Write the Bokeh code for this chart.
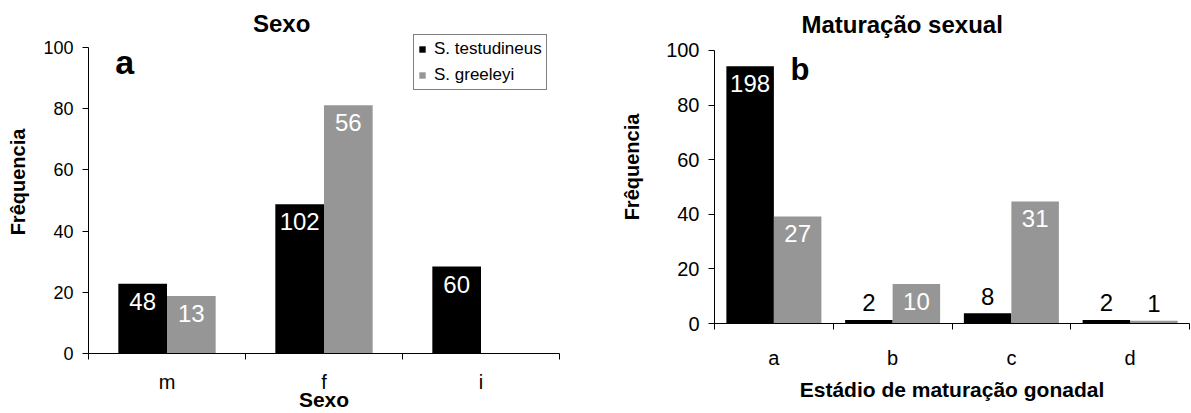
import numpy as np
from bokeh.plotting import figure
from bokeh.models import (ColumnDataSource, FixedTicker, Legend, LegendItem, Label,
                          Range1d)
from bokeh.layouts import row, column
from bokeh.embed import file_html
from bokeh.resources import INLINE
from bokeh.core.properties import value

# ---------------- data ----------------
series_names = ["S. testudineus", "S. greeleyi"]
series_colors = ["#000000", "#969696"]
y_ticks = [0, 20, 40, 60, 80, 100]

# panel a: Sexo (bar height = % frequency, label = count)
sex_categories = ["m", "f", "i"]
sex_testudineus_pct = [22.8, 48.8, 28.4]
sex_greeleyi_pct = [18.8, 81.1, np.nan]
sex_testudineus_n = [48, 102, 60]
sex_greeleyi_n = [13, 56, None]

# panel b: Maturação sexual
mat_categories = ["a", "b", "c", "d"]
mat_testudineus_pct = [94.2, 1.3, 3.8, 1.3]
mat_greeleyi_pct = [39.2, 14.5, 44.7, 1.0]
mat_testudineus_n = [198, 2, 8, 2]
mat_greeleyi_n = [27, 10, 31, 1]

FONT = "Liberation Sans"


def make_panel(categories, pct_a, pct_b, n_a, n_b, *, title, title_pos, xlabel,
               letter, letter_pos, letter_size, bar_w, width, height, ymax,
               bl, br, bt, bb, tick_size, cat_size, cat_standoff, xlab_standoff,
               ylab_standoff, legend=False):
    k = len(categories)
    centers = np.arange(k) + 0.5
    p = figure(width=width, height=height,
               x_range=Range1d(0, k), y_range=Range1d(0, ymax),
               output_backend="svg", toolbar_location=None,
               min_border_left=bl, min_border_right=br, min_border_top=bt,
               min_border_bottom=bb)
    p.outline_line_color = None
    p.xgrid.visible = False
    p.ygrid.visible = False
    p.background_fill_color = "white"
    p.border_fill_color = "white"

    renderers = []
    label_rows = {"x": [], "y": [], "t": [], "c": []}
    out_rows = {"x": [], "y": [], "t": []}
    for s, (pcts, ns, col) in enumerate([(pct_a, n_a, series_colors[0]),
                                         (pct_b, n_b, series_colors[1])]):
        xs = centers + (s - 0.5) * bar_w
        src = ColumnDataSource(dict(x=xs, top=pcts))
        r = p.vbar(x="x", top="top", width=bar_w, source=src, fill_color=col,
                   line_color=None)
        renderers.append(r)
        for xi, v, n in zip(xs, pcts, ns):
            if n is None:
                continue
            if v >= 10:
                label_rows["x"].append(xi); label_rows["y"].append(v)
                label_rows["t"].append(str(n)); label_rows["c"].append("white")
            else:
                out_rows["x"].append(xi); out_rows["y"].append(v)
                out_rows["t"].append(str(n))

    p.text(x="x", y="y", text="t", text_color="c", source=ColumnDataSource(label_rows),
           text_font=value(FONT), text_font_size="24px", text_align="center",
           text_baseline="top", y_offset=9)
    p.text(x="x", y="y", text="t", text_color="black", source=ColumnDataSource(out_rows),
           text_font=value(FONT), text_font_size="24px", text_align="center",
           text_baseline="alphabetic", y_offset=-17)

    # y axis
    ya = p.yaxis[0]
    ya.ticker = FixedTicker(ticks=y_ticks)
    ya.bounds = (0, 100)
    ya.minor_tick_line_color = None
    ya.major_tick_in = 0
    ya.major_tick_out = 6
    ya.major_label_standoff = 9
    ya.major_label_text_font = FONT
    ya.major_label_text_font_size = tick_size
    ya.major_label_text_color = "black"
    ya.axis_line_color = "black"
    ya.major_tick_line_color = "black"
    ya.axis_label = "Frêquencia"
    ya.axis_label_text_font = FONT
    ya.axis_label_text_font_size = "20px"
    ya.axis_label_text_font_style = "bold"
    ya.axis_label_text_color = "black"
    ya.axis_label_standoff = ylab_standoff

    # x axis: labels at centers, ticks at category boundaries
    xa = p.xaxis[0]
    xa.ticker = FixedTicker(ticks=list(centers), minor_ticks=list(np.arange(k + 1)))
    xa.major_label_overrides = {float(c): cat for c, cat in zip(centers, categories)}
    xa.major_tick_out = 0
    xa.major_tick_in = 0
    xa.minor_tick_out = 6
    xa.minor_tick_in = 0
    xa.minor_tick_line_color = "black"
    xa.axis_line_color = "black"
    xa.major_label_standoff = cat_standoff
    xa.major_label_text_font = FONT
    xa.major_label_text_font_size = cat_size
    xa.major_label_text_color = "black"
    xa.axis_label = xlabel
    xa.axis_label_text_font = FONT
    xa.axis_label_text_font_size = "21px"
    xa.axis_label_text_font_style = "bold"
    xa.axis_label_text_color = "black"
    xa.axis_label_standoff = xlab_standoff

    # chart title (inside the extended frame, above the 0-100 area)
    p.add_layout(Label(x=title_pos[0], y=title_pos[1], text=title, text_font=FONT,
                       text_font_size="24px", text_font_style="bold",
                       text_color="black", text_align="center",
                       text_baseline="alphabetic"))
    p.add_layout(Label(x=letter_pos[0], y=letter_pos[1], text=letter,
                       text_font=FONT, text_font_size=letter_size,
                       text_font_style="bold", text_color="black",
                       text_baseline="alphabetic"))

    if legend:
        lg = Legend(items=[LegendItem(label=series_names[i], renderers=[renderers[i]])
                           for i in range(2)],
                    location=(325, 263), orientation="vertical",
                    glyph_width=8, glyph_height=8, label_text_font=FONT,
                    label_text_font_size="17px", label_text_color="black",
                    label_standoff=8, label_height=20,
                    padding=4, spacing=6, margin=0, border_line_color="black",
                    border_line_width=1, background_fill_alpha=1)
        p.add_layout(lg)
    return p


pa = make_panel(sex_categories, sex_testudineus_pct, sex_greeleyi_pct,
                sex_testudineus_n, sex_greeleyi_n, title="Sexo", title_pos=(1.23, 107.8),
                xlabel="Sexo", letter="a", letter_pos=(0.17, 95.4), letter_size="34px",
                bar_w=0.31, width=600, height=413, ymax=112.1, bl=88, br=41, bt=10,
                bb=60, tick_size="18px", cat_size="20px", cat_standoff=11,
                xlab_standoff=-8, ylab_standoff=11, legend=True)

pb = make_panel(mat_categories, mat_testudineus_pct, mat_greeleyi_pct,
                mat_testudineus_n, mat_greeleyi_n, title="Maturação sexual",
                title_pos=(1.58, 109.5), xlabel="Estádio de maturação gonadal",
                letter="b", letter_pos=(0.64, 93.0), letter_size="31px",
                bar_w=0.40, width=591, height=413, ymax=114.65, bl=114, br=2, bt=10,
                bb=90, tick_size="20px", cat_size="20px", cat_standoff=17,
                xlab_standoff=6, ylab_standoff=20)

layout = row(column(pa), column(pb))
open("out.html", "w").write(file_html(layout, INLINE))
